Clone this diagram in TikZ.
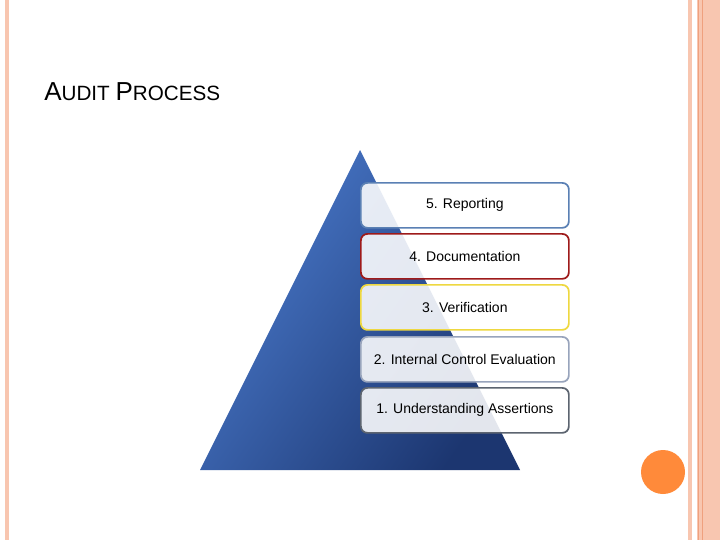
\documentclass[tikz,border=0pt]{standalone}
\usepackage{fontspec}
\setmainfont{Liberation Sans}
\definecolor{peach}{HTML}{F8C6B0}
\definecolor{peachline}{HTML}{EFA07E}
\definecolor{tridark}{HTML}{1C3670}
\definecolor{trilight}{HTML}{4A7ACC}
\definecolor{c5}{HTML}{5A80B4}
\definecolor{c4}{HTML}{9E1A1A}
\definecolor{c3}{HTML}{EED840}
\definecolor{c2}{HTML}{98A4BC}
\definecolor{c1}{HTML}{5C6470}
\definecolor{dot}{HTML}{FF8A3A}
\begin{document}
\begin{tikzpicture}[x=0.75pt,y=-0.75pt,
  stepbox/.style={draw=#1,line width=1.3pt,rounded corners=5pt,fill=white,fill opacity=0.88,text opacity=1,minimum width=208*0.75pt,minimum height=45*0.75pt,anchor=north west,inner sep=0pt,font=\fontsize{10.5pt}{12pt}\selectfont}]
\useasboundingbox (0,0) rectangle (720,540);
\fill[white] (0,0) rectangle (720,540);
\fill[peach] (5,0) rectangle (9,540);
\fill[peach] (688,0) rectangle (692,540);
\fill[peach] (697,0) rectangle (720,540);
\draw[peachline,line width=0.6pt] (698,0) -- (698,540);
\draw[peachline,line width=0.6pt] (702,0) -- (702,540);
\node[anchor=base west,inner sep=0pt] (title) at (44,100) {\fontsize{19.5pt}{22pt}\selectfont A\fontsize{15.5pt}{18pt}\selectfont UDIT \fontsize{19.5pt}{22pt}\selectfont P\fontsize{15.5pt}{18pt}\selectfont ROCESS};
\shade[left color=trilight,right color=tridark,shading angle=55] (360,150) -- (520,470) -- (200,470) -- cycle;
\node[stepbox=c5] (s5) at (360,182) {5. Reporting};
\node[stepbox=c4] (s4) at (360,233) {4. Documentation};
\node[stepbox=c3] (s3) at (360,284) {3. Verification};
\node[stepbox=c2] (s2) at (360,336) {2. Internal Control Evaluation};
\node[stepbox=c1] (s1) at (360,387) {1. Understanding Assertions};
\fill[dot] (663,472) circle (22*0.75pt);
\end{tikzpicture}
\end{document}
